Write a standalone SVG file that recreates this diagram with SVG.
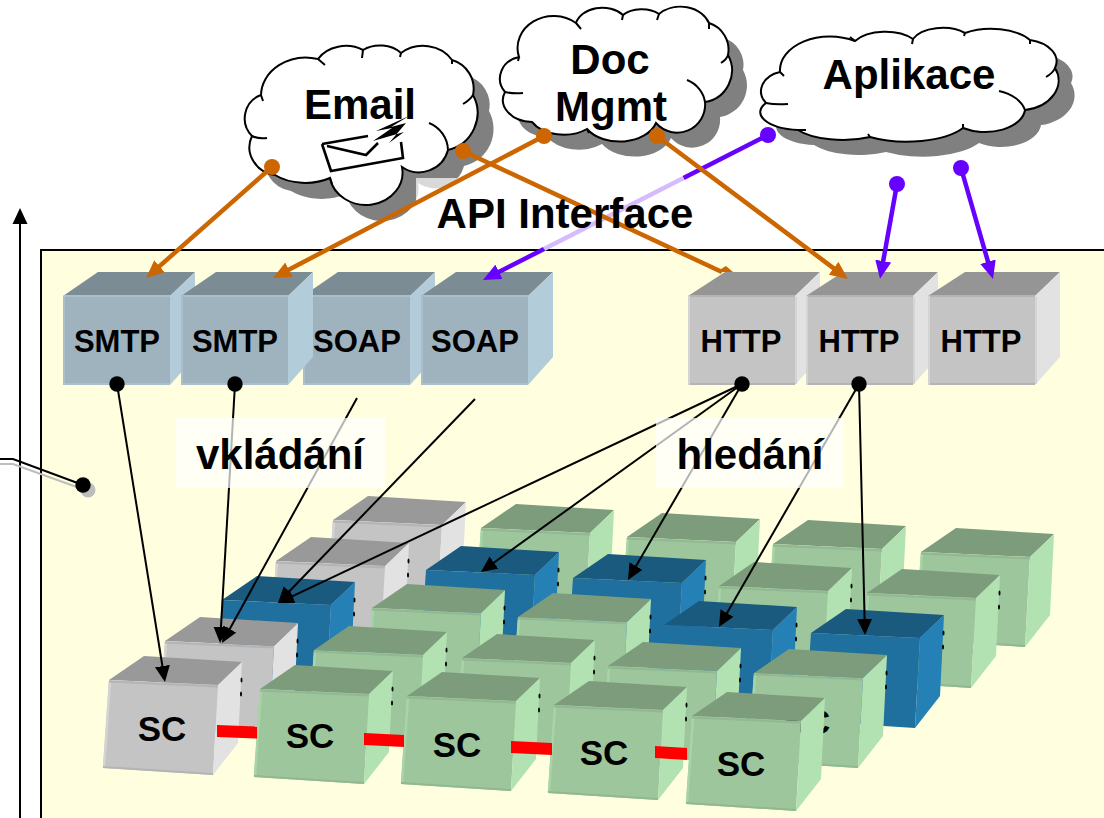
<svg xmlns="http://www.w3.org/2000/svg" width="1104" height="818" viewBox="0 0 1104 818">
<style>
text{font-family:"Liberation Sans",Arial,sans-serif;font-weight:bold;fill:#000;text-anchor:middle}
.t42{font-size:42px}.t31{font-size:31px}.t35{font-size:35px}
.cl{fill:#fff;stroke:#000;stroke-width:2}
.cu{fill:none;stroke:#000;stroke-width:2}
.sh{fill:#808080}
.o{stroke:#cc6600;stroke-width:4.5;fill:none}
.p{stroke:#6600ff;stroke-width:4.5;fill:none}
.k{stroke:#000;stroke-width:2;fill:none}
.red{fill:#ff0000}
.env{fill:none;stroke:#000;stroke-width:2.6;stroke-linejoin:miter}
</style>
<defs>
<marker id="mo" markerUnits="userSpaceOnUse" markerWidth="18" markerHeight="16" refX="9" refY="8" orient="auto"><path d="M0,0L18,8L0,16z" fill="#cc6600"/></marker>
<marker id="mp" markerUnits="userSpaceOnUse" markerWidth="18" markerHeight="16" refX="9" refY="8" orient="auto"><path d="M0,0L18,8L0,16z" fill="#6600ff"/></marker>
<marker id="mk" markerUnits="userSpaceOnUse" markerWidth="16" markerHeight="16" refX="8" refY="8" orient="auto"><path d="M0,0.5L16,8L0,15.5z" fill="#000"/></marker>
<marker id="do" markerUnits="userSpaceOnUse" markerWidth="18" markerHeight="18" refX="9" refY="9" orient="0"><circle cx="9" cy="9" r="8" fill="#cc6600"/></marker>
<marker id="dp" markerUnits="userSpaceOnUse" markerWidth="18" markerHeight="18" refX="9" refY="9" orient="0"><circle cx="9" cy="9" r="8" fill="#6600ff"/></marker>
<marker id="dk" markerUnits="userSpaceOnUse" markerWidth="18" markerHeight="18" refX="9" refY="9" orient="0"><circle cx="9" cy="9" r="7.7" fill="#000"/></marker>
<path id="p-email" d="M261,95A45,38 0 0 1 318,59A32,26 0 0 1 363,50A28,22 0 0 1 401,53A34,30 0 0 1 452,60A30,30 0 0 1 473,95A38,38 0 0 1 448,150A30,30 0 0 1 402,167A36,32 0 0 1 330,178A45,30 0 0 1 275,175A30,28 0 0 1 252,136A25,25 0 0 1 261,95Z"/>
<path id="p-doc" d="M519,57A36,32 0 0 1 576,23A27,20 0 0 1 623,15A23,14 0 0 1 659,14A30,24 0 0 1 709,23A28,28 0 0 1 728,55A32,32 0 0 1 705,102A28,28 0 0 1 656,123A38,26 0 0 1 587,129A36,24 0 0 1 532,122A30,22 0 0 1 505,92A24,22 0 0 1 519,57Z"/>
<path id="p-app" d="M780,72A50,34 0 0 1 855,41A36,20 0 0 1 913,39A32,18 0 0 1 965,33A46,24 0 0 1 1030,40A34,22 0 0 1 1055,68A40,30 0 0 1 1025,110A40,24 0 0 1 963,128A64,26 0 0 1 870,137A52,20 0 0 1 798,130A42,18 0 0 1 766,103A26,20 0 0 1 780,72Z"/>
<g id="cG"><path fill="#999" d="M0,0L35,-24L133,-18L109,5z"/><path fill="#c4c4c4" d="M0,0L109,5L104,95L-6,88z"/><path fill="#e2e2e2" d="M109,5L133,-18L129,63L104,95z"/><path fill="none" stroke="#d4d4d4" stroke-width="2.5" d="M1,1L-5,87"/><path fill="none" stroke="#b4b4b4" stroke-width="2" d="M0,1.5L109,6.5M-6,87L104,94"/></g>
<g id="cV"><path fill="#7c9c7c" d="M0,0L35,-24L133,-18L109,5z"/><path fill="#9dc69d" d="M0,0L109,5L104,95L-6,88z"/><path fill="#b2e2b2" d="M109,5L133,-18L129,63L104,95z"/><path fill="none" stroke="#a8d4a8" stroke-width="2.5" d="M1,1L-5,87"/><path fill="none" stroke="#92b892" stroke-width="2" d="M0,1.5L109,6.5M-6,87L104,94"/></g>
<g id="cB"><path fill="#1a5a7e" d="M0,0L35,-24L133,-18L109,5z"/><path fill="#1f6f9f" d="M0,0L109,5L104,95L-6,88z"/><path fill="#2480b5" d="M109,5L133,-18L129,63L104,95z"/></g>
<g id="mm"><ellipse cx="132.500" cy="0" rx="1" ry="2.500"/><ellipse cx="132" cy="14" rx="1" ry="2.500"/></g>
<g id="bB"><path fill="#7b8c95" d="M0,296L35,272L132,272L107,296z"/><path fill="#9fb3bf" d="M0,296H107V385H0z"/><path fill="#b2ccd9" d="M107,296L132,272V357L107,385z"/><path fill="none" stroke="#a9bfcb" stroke-width="2" d="M1,296V385M1,296H107M0,384H107"/></g>
<g id="bG"><path fill="#959595" d="M0,296L37,272L132,272L107,296z"/><path fill="#c4c4c4" d="M0,296H107V385H0z"/><path fill="#e2e2e2" d="M107,296L132,272V357L107,385z"/><path fill="none" stroke="#b4b4b4" stroke-width="2" d="M1,296H107M0,384H107"/><path fill="none" stroke="#d4d4d4" stroke-width="2" d="M1,296V385M108,297V384"/></g>
</defs>

<rect id="panel" x="41" y="250" width="1075" height="600" fill="#ffffe0" stroke="#000" stroke-width="2"/>

<g id="cloud-email">
<use href="#p-email" class="sh" transform="translate(16,16)"/>
<use href="#p-email" class="cl"/>
<path class="cu" d="M318,59L325,65M363,50L362,58M401,53L400,57M452,60V64M473,95Q470,100 463,104M429,123A30,30 0 0 1 448,150M252,136Q258,139 267,138M261,95L263,101M330,178L332,184"/>
<text class="t42" x="360" y="119">Email</text>
<path class="env" d="M322,144L368,136M322,144L331,171L403,158L401,142M327,146L366,155L378,143"/>
<path fill="#000" d="M409,116L376,131L392,128L373,141L404,132L389,143L406,123L391,127z"/>
</g>
<g id="cloud-doc">
<use href="#p-doc" class="sh" transform="translate(15,15)"/>
<use href="#p-doc" class="cl"/>
<path class="cu" d="M576,23L581,29M623,15L622,20M659,14L657,20M709,23V29M728,55Q727,59 721,63M687,80A30,28 0 0 1 705,102M505,92Q513,94 523,93M519,57L518,61M587,129L589,133"/>
<text class="t42" x="610" y="74">Doc</text>
<text class="t42" x="611" y="121">Mgmt</text>
</g>
<g id="cloud-app">
<use href="#p-app" class="sh" transform="translate(16,15)"/>
<use href="#p-app" class="cl"/>
<path class="cu" d="M855,41L850,37M913,39L912,44M965,33L964,36M1030,40V44M1055,68Q1053,73 1046,77M999,91A40,26 0 0 1 1025,110M766,103Q775,105 788,104M780,72L784,76M798,130H806M870,137L868,134M963,128V124"/>
<text class="t42" x="909" y="89">Aplikace</text>
</g>

<rect id="api-box" x="416" y="178" width="298" height="71" fill="#fff" fill-opacity=".7"/>

<g id="smtp1"><use href="#bB" x="63"/><text class="t31" x="117" y="352">SMTP</text></g>
<g id="soap1"><use href="#bB" x="303"/></g>
<g id="smtp2"><use href="#bB" x="181"/><text class="t31" x="235" y="352">SMTP</text></g>
<g id="soap1-label"><text class="t31" x="357" y="352">SOAP</text></g>
<g id="soap2"><use href="#bB" x="421"/><text class="t31" x="475" y="352">SOAP</text></g>
<g id="http1"><use href="#bG" x="688"/><text class="t31" x="741" y="352">HTTP</text></g>
<g id="http2"><use href="#bG" x="806"/><text class="t31" x="859" y="352">HTTP</text></g>
<g id="http3"><use href="#bG" x="928"/><text class="t31" x="981" y="352">HTTP</text></g>

<g id="cubes">
<g id="r5c1"><use href="#cG" x="333" y="520"/></g>
<g id="r5c2"><use href="#cV" x="481" y="528"/></g>
<g id="r5c3"><use href="#cV" x="627" y="537"/></g>
<g id="r5c4"><use href="#cV" x="773" y="544"/></g>
<g id="r5c5"><use href="#cV" x="921" y="552"/></g>
<g id="r4c1"><use href="#cG" x="276" y="561"/><use href="#mm" x="276" y="561"/></g>
<g id="r4c2"><use href="#cB" x="426" y="570"/><use href="#mm" x="426" y="570"/></g>
<g id="r4c3"><use href="#cB" x="573" y="578"/><use href="#mm" x="573" y="578"/></g>
<g id="r4c4"><use href="#cV" x="719" y="586"/><use href="#mm" x="719" y="586"/></g>
<g id="r4c5"><use href="#cV" x="867" y="593"/><use href="#mm" x="867" y="593"/></g>
<g id="r3c1"><use href="#cB" x="222" y="600"/><use href="#mm" x="222" y="600"/></g>
<g id="r3c2"><use href="#cV" x="372" y="608"/><use href="#mm" x="372" y="608"/></g>
<g id="r3c3"><use href="#cV" x="518" y="617"/><use href="#mm" x="518" y="617"/></g>
<g id="r3c4"><use href="#cB" x="664" y="625"/><use href="#mm" x="664" y="625"/></g>
<g id="r3c5"><use href="#cB" x="811" y="633"/><use href="#mm" x="811" y="633"/></g>
<g id="r2c1"><use href="#cG" x="165" y="641"/><use href="#mm" x="165" y="641"/></g>
<g id="r2c2"><use href="#cV" x="314" y="650"/><use href="#mm" x="314" y="650"/></g>
<g id="r2c3"><use href="#cV" x="462" y="658"/><use href="#mm" x="462" y="658"/></g>
<g id="r2c4"><use href="#cV" x="608" y="666"/><use href="#mm" x="608" y="666"/></g>
<g id="r2c5"><use href="#cV" x="754" y="673"/><use href="#mm" x="754" y="673"/><text class="t35" x="806" y="734">SC</text></g>
<g id="r1c1"><use href="#cG" x="109" y="680"/><use href="#mm" x="109" y="680"/><text class="t35" x="162" y="741">SC</text></g>
<g id="r1c2"><use href="#cV" x="260" y="689"/><use href="#mm" x="260" y="689"/><text class="t35" x="310" y="748">SC</text></g>
<g id="r1c3"><use href="#cV" x="407" y="696"/><use href="#mm" x="407" y="696"/><text class="t35" x="457" y="757">SC</text></g>
<g id="r1c4"><use href="#cV" x="554" y="705"/><use href="#mm" x="554" y="705"/><text class="t35" x="604" y="765">SC</text></g>
<g id="r1c5"><use href="#cV" x="692" y="716"/><text class="t35" x="741" y="776">SC</text></g>
</g>

<g id="connectors">
<path class="red" d="M217,725L257,726.500V738.500L217,737z"/>
<path class="red" d="M364,733L404,735V747L364,745z"/>
<path class="red" d="M511,741L552,743V755L511,753z"/>
<path class="red" d="M655,746L687,748V760L655,758z"/>
<path class="k" d="M20,818V216" marker-end="url(#mk)"/>
<path fill="none" stroke="#bdbdbd" stroke-width="2" d="M0,464H13L85,490"/>
<circle cx="88" cy="490" r="7.500" fill="#bdbdbd"/>
<path class="k" d="M0,459H13L83,485" marker-end="url(#dk)"/>
<path class="p" d="M768,135L683.500,178" marker-start="url(#dp)"/>
<path class="p" style="stroke:#d6bcff" d="M683.500,178L544,249"/>
<path class="p" d="M544,249L491,275.900" marker-end="url(#mp)"/>
<path class="p" d="M897,184L881.600,270" marker-start="url(#dp)" marker-end="url(#mp)"/>
<path class="p" d="M961,168L990.500,270.400" marker-start="url(#dp)" marker-end="url(#mp)"/>
<path class="o" d="M272,167L152.800,272.100" marker-start="url(#do)" marker-end="url(#mo)"/>
<path class="o" d="M544,136L281,273.800" marker-start="url(#do)" marker-end="url(#mo)"/>
<path class="o" d="M463,151L722,272" marker-start="url(#do)"/>
<path fill="#cc6600" d="M726,266L733,272H716z"/>
<path class="o" d="M657,136L840.800,273.600" marker-start="url(#do)" marker-end="url(#mo)"/>
<path class="k" d="M117,384L163.700,674" marker-start="url(#dk)" marker-end="url(#mk)"/>
<path class="k" d="M235,384L220.500,635" marker-start="url(#dk)" marker-end="url(#mk)"/>
<path class="k" d="M357,398L225.900,636" marker-end="url(#mk)"/>
<path class="k" d="M475,399L283.600,597.200" marker-end="url(#mk)"/>
<path class="k" d="M742,384L285.200,599.600" marker-start="url(#dk)" marker-end="url(#mk)"/>
<path class="k" d="M742,384L487.500,567.300" marker-end="url(#mk)"/>
<path class="k" d="M742,384L632,573" marker-end="url(#mk)"/>
<path class="k" d="M859,384L723,620" marker-start="url(#dk)" marker-end="url(#mk)"/>
<path class="k" d="M859,384L864.800,627" marker-end="url(#mk)"/>
</g>

<g id="label-api"><text class="t42" x="565" y="228">API Interface</text></g>
<g id="label-vkladani"><rect x="176" y="418" width="209" height="70" fill="#fff" fill-opacity=".7"/><text class="t42" x="280" y="469">vkládání</text></g>
<g id="label-hledani"><rect x="656" y="418" width="188" height="70" fill="#fff" fill-opacity=".7"/><text class="t42" x="750" y="469">hledání</text></g>
</svg>
